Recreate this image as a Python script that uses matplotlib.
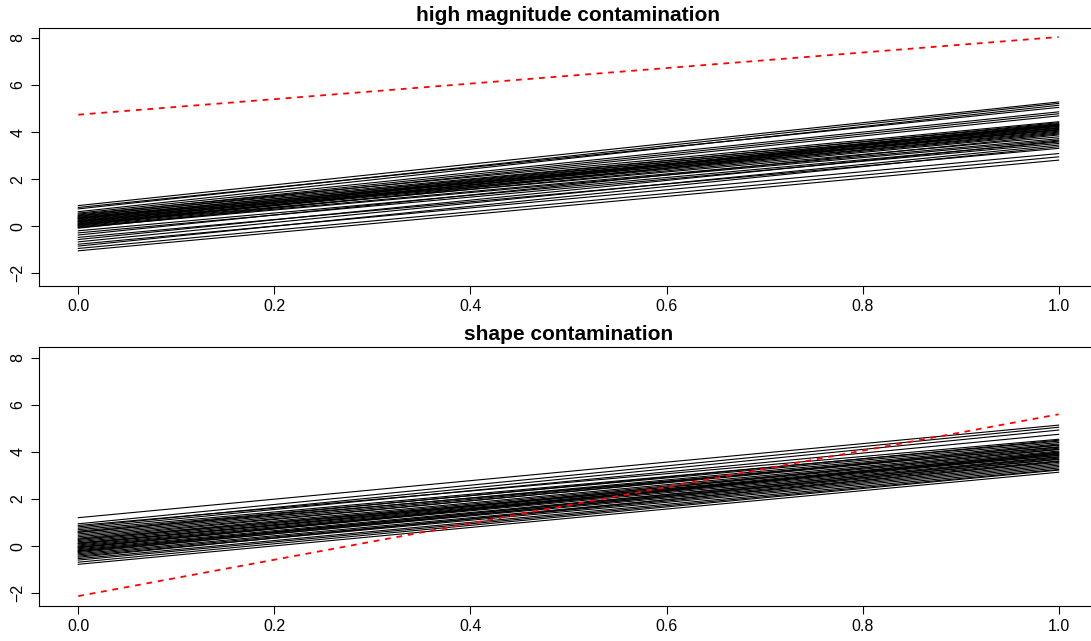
import matplotlib
matplotlib.use("Agg")
import matplotlib.pyplot as plt
import numpy as np

plt.rcParams['font.family'] = ['Liberation Sans', 'DejaVu Sans']

# curve end points: value at t=0 and at t=1 (curves are straight lines)
t = [0.0, 1.0]

# high magnitude contamination
top_start = [0.88, 0.80, 0.74, 0.56, 0.52, 0.48, 0.45, 0.42, 0.39, 0.36, 0.33, 0.30,
             0.27, 0.24, 0.21, 0.18, 0.15, 0.12, 0.10, 0.07, 0.04, 0.01, -0.02, -0.05,
             -0.08, -0.19, -0.28, -0.37, -0.47, -0.56, -0.66, -0.76, -0.84, -0.94, -1.04, 0.62,
             0.35, 0.20, 0.05]
top_end = [5.28, 5.05, 5.22, 4.86, 4.44, 4.78, 4.36, 4.69, 4.28, 4.40, 4.20, 4.32,
           4.16, 4.24, 4.08, 4.12, 4.00, 4.04, 3.96, 3.80, 4.30, 3.92, 3.72, 3.66,
           4.18, 3.58, 3.52, 3.88, 3.31, 3.62, 3.45, 3.09, 3.38, 2.95, 2.81, 5.14,
           4.10, 4.26, 4.34]
top_outlier = [4.74, 8.04]

# shape contamination
bot_start = [1.21, 0.95, 0.88, 0.82, 0.76, 0.70, 0.64, 0.58, 0.52, 0.46, 0.40, 0.34,
             0.29, 0.24, 0.19, 0.14, 0.09, 0.05, 0.01, -0.03, -0.07, -0.11, -0.15, -0.19,
             -0.23, -0.27, -0.32, -0.37, -0.42, -0.47, -0.53, -0.59, -0.68, -0.77, 0.30, -0.05,
             0.12, -0.20, 0.60]
bot_end = [5.14, 5.05, 4.54, 4.93, 4.75, 4.46, 4.40, 4.50, 4.34, 4.28, 4.22, 4.30,
           4.16, 4.10, 4.04, 3.98, 4.12, 3.92, 3.86, 3.80, 3.95, 3.74, 3.68, 3.62,
           3.56, 3.70, 3.50, 3.44, 3.38, 3.60, 3.32, 3.26, 3.23, 3.14, 3.85, 4.00,
           3.90, 3.78, 4.20]
bot_outlier = [-2.12, 5.60]

titles = ["high magnitude contamination", "shape contamination"]
xticks = [0.0, 0.2, 0.4, 0.6, 0.8, 1.0]
yticks = [-2, 0, 2, 4, 6, 8]

fig = plt.figure(figsize=(10.91, 6.41), dpi=100)
ax1 = fig.add_axes([0.0358, 0.554, 0.9705, 0.403])
ax2 = fig.add_axes([0.0358, 0.055, 0.9705, 0.403])

panels = [(ax1, top_start, top_end, top_outlier),
          (ax2, bot_start, bot_end, bot_outlier)]

for i, (ax, s, e, out) in enumerate(panels):
    for a, b in zip(s, e):
        ax.plot(t, [a, b], color='black', lw=0.8)
    ax.plot(t, out, color='red', lw=1.3, dashes=(3.2, 3.2))
    ax.set_xlim(-0.04, 1.04)
    ax.set_ylim(-2.53, 8.44)
    ax.set_xticks(xticks)
    ax.set_xticklabels(["%.1f" % v for v in xticks])
    ax.set_yticks(yticks)
    ax.set_yticklabels([str(v).replace('-', '\u2212') for v in yticks], rotation=90, va='center')
    ax.tick_params(direction='out', length=5.8, width=0.8, labelsize=11.5, pad=4)
    for sp in ax.spines.values():
        sp.set_linewidth(0.8)
    ax.set_title(titles[i], fontsize=15, fontweight='bold', pad=5)

fig.savefig("out.png", dpi=100)
